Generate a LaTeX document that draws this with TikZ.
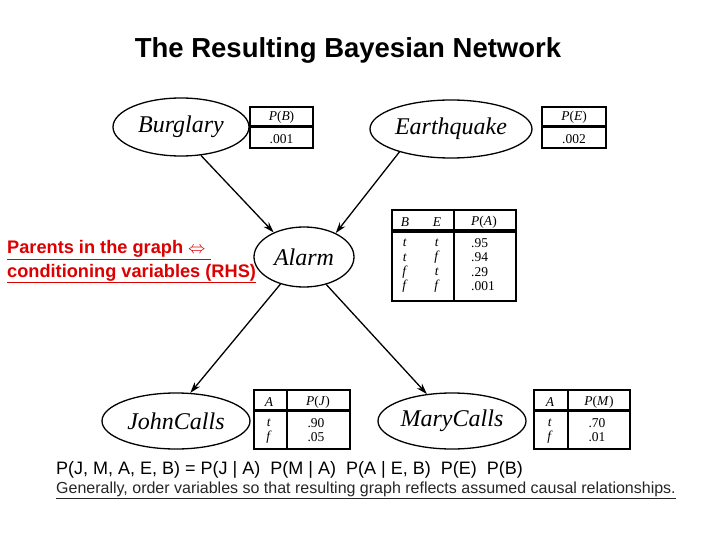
\documentclass[tikz,border=0pt]{standalone}
\usepackage{fontspec}
\setmainfont{Liberation Serif}
\newfontfamily\arialf{Liberation Sans}
\usetikzlibrary{shapes.geometric,arrows.meta}
\definecolor{redtxt}{RGB}{220,0,0}
\begin{document}
\begin{tikzpicture}[x=1pt,y=-1pt,
  var/.style={draw, ellipse, line width=1.3pt, inner sep=0pt, font=\fontsize{24}{26}\selectfont\itshape},
  arr/.style={line width=1.3pt, -{Stealth[length=11pt,width=7pt]}},
  tbl/.style={draw, line width=1.8pt},
  hdr/.style={line width=3pt},
  tt/.style={inner sep=0pt, font=\fontsize{13.5}{15}\selectfont},
  redlbl/.style={inner sep=0pt, anchor=base west, text=redtxt, font=\arialf\bfseries\fontsize{18.2}{20}\selectfont}
]
\useasboundingbox[fill=white] (0,0) rectangle (720,540);

% title
\node[inner sep=0pt, font=\arialf\bfseries\fontsize{27.5}{30}\selectfont, anchor=base] (title) at (348,57.5) {The Resulting Bayesian Network};

% variables
\node[var, minimum width=136pt, minimum height=58pt] (burglary) at (181,127) {Burglary};
\node[var, minimum width=162pt, minimum height=58pt] (earthquake) at (451,129) {Earthquake};
\node[var, minimum width=100pt, minimum height=60pt] (alarm) at (304,257) {Alarm};
\node[var, minimum width=148pt, minimum height=56pt] (john) at (176,421) {JohnCalls};
\node[var, minimum width=148pt, minimum height=56pt] (mary) at (452,421) {MaryCalls};

% arrows
\draw[arr] (burglary.-55) -- (alarm.141);
\draw[arr] (earthquake.204) -- (alarm.37);
\draw[arr] (alarm.229) -- (john.63);
\draw[arr] (alarm.-51) -- (mary.133);

% P(B) table
\draw[tbl] (250,107) rectangle (313,148);
\draw[hdr] (250,127) -- (313,127);
\node[tt] (pbh) at (281.5,117.5) {\textit{P}(\textit{B})};
\node[tt] (pbv) at (281.5,139) {.001};

% P(E) table
\draw[tbl] (542,107) rectangle (606,148);
\draw[hdr] (542,127) -- (606,127);
\node[tt] (peh) at (574,117.5) {\textit{P}(\textit{E})};
\node[tt] (pev) at (574,139) {.002};

% P(A) table
\draw[tbl] (392,210) rectangle (516,301);
\draw[hdr] (392,231) -- (516,231);
\draw[line width=1.8pt] (454,210) -- (454,301);
\node[tt] (pab) at (405,222) {\textit{B}};
\node[tt] (pae) at (437,222) {\textit{E}};
\node[tt] (pah) at (484,222) {\textit{P}(\textit{A})};
\node[tt] (pa1b) at (405,243) {\textit{t}};
\node[tt] (pa1e) at (437,243) {\textit{t}};
\node[tt, anchor=west] (pa1) at (471,243) {.95};
\node[tt] (pa2b) at (405,257.5) {\textit{t}};
\node[tt] (pa2e) at (437,257.5) {\textit{f}};
\node[tt, anchor=west] (pa2) at (471,257.5) {.94};
\node[tt] (pa3b) at (405,272) {\textit{f}};
\node[tt] (pa3e) at (437,272) {\textit{t}};
\node[tt, anchor=west] (pa3) at (471,272) {.29};
\node[tt] (pa4b) at (405,286.5) {\textit{f}};
\node[tt] (pa4e) at (437,286.5) {\textit{f}};
\node[tt, anchor=west] (pa4) at (471,286.5) {.001};

% P(J) table
\draw[tbl] (254,390) rectangle (350,449);
\draw[hdr] (254,410) -- (350,410);
\draw[line width=1.8pt] (287,390) -- (287,449);
\node[tt] (pja) at (269,402) {\textit{A}};
\node[tt] (pjh) at (318,402) {\textit{P}(\textit{J})};
\node[tt] (pj1a) at (269,423) {\textit{t}};
\node[tt] (pj1) at (316,423) {.90};
\node[tt] (pj2a) at (269,437) {\textit{f}};
\node[tt] (pj2) at (316,437) {.05};

% P(M) table
\draw[tbl] (534,390) rectangle (630,449);
\draw[hdr] (534,410) -- (630,410);
\draw[line width=1.8pt] (568,390) -- (568,449);
\node[tt] (pma) at (550,402) {\textit{A}};
\node[tt] (pmh) at (599,402) {\textit{P}(\textit{M})};
\node[tt] (pm1a) at (550,423) {\textit{t}};
\node[tt] (pm1) at (597,423) {.70};
\node[tt] (pm2a) at (550,437) {\textit{f}};
\node[tt] (pm2) at (597,437) {.01};

% red annotation
\node[redlbl] (par1) at (7,254) {\underline{Parents in the graph $\Leftrightarrow$\ }};
\node[redlbl] (par2) at (7,277) {\underline{conditioning variables (RHS)}};

% formula
\node[inner sep=0pt, anchor=base west, font=\arialf\fontsize{18}{20}\selectfont] (formula) at (56,474)
  {P(J, M, A, E, B) = P(J | A)\ \ P(M | A)\ \ P(A | E, B)\ \ P(E)\ \ P(B)};
\node[inner sep=0pt, anchor=base west, font=\arialf\fontsize{16}{18}\selectfont, text=black!85] (general) at (56,493)
  {\underline{Generally, order variables so that resulting graph reflects assumed causal relationships.}};
\end{tikzpicture}
\end{document}
